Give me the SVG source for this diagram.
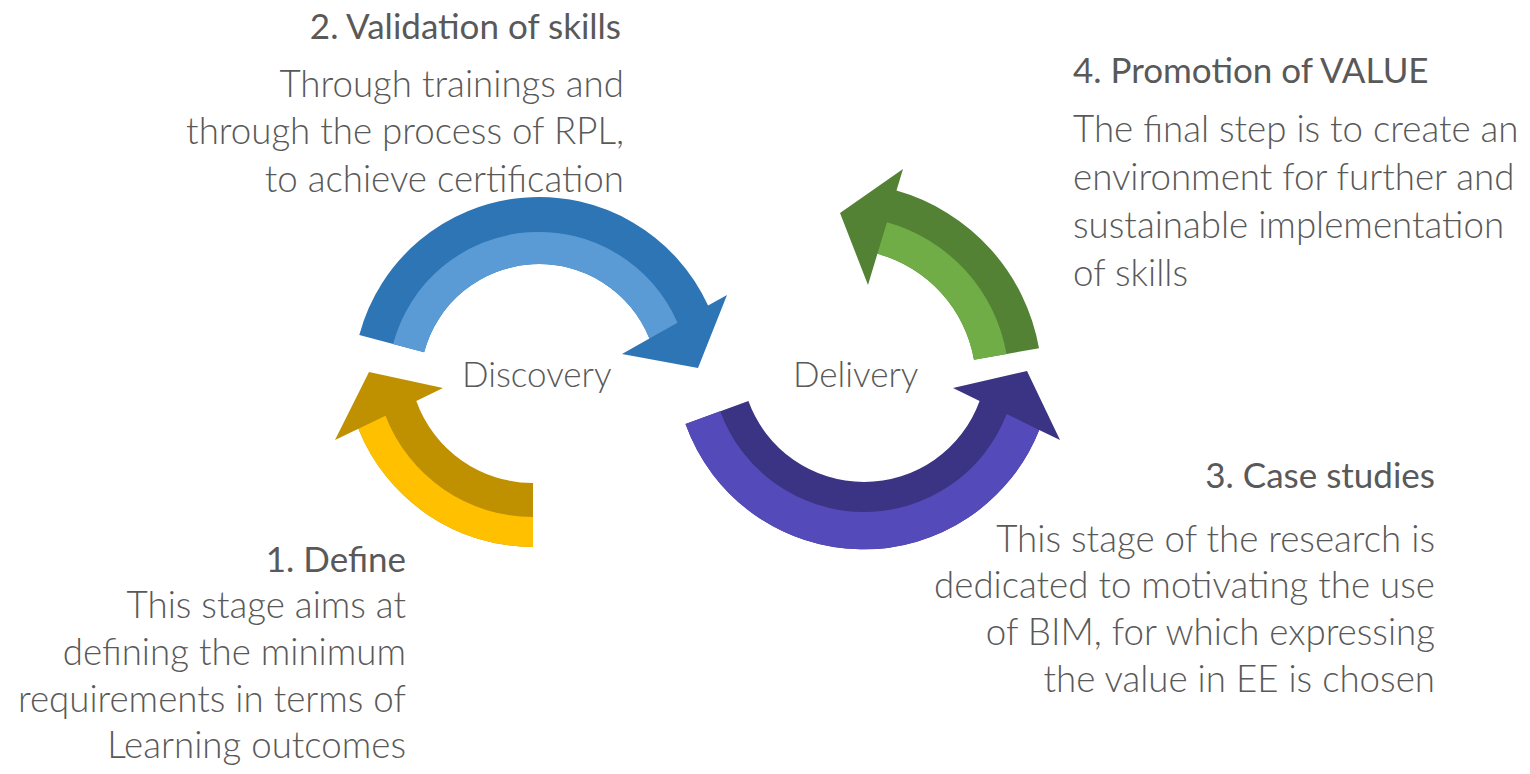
<svg xmlns="http://www.w3.org/2000/svg" width="1530" height="774" viewBox="0 0 1530 774">
<style>
text { font-family: Lato, "Liberation Sans", sans-serif; fill: #595959; }
.h { font-size: 35px; font-weight: 400; }
.b { font-size: 36.7px; font-weight: 300; }
.c { font-size: 35px; font-weight: 300; }
.end { text-anchor: end; }
</style>
<rect width="1530" height="774" fill="#ffffff"/>
<g id="connectors">
  <g id="arrow-blue">
    <path fill="#2E75B6" d="M 359.3 334.9 A 186 186 0 0 1 708.1 305.6 L 727 295 L 698 368 L 622 354 L 649.4 338.6 A 119 119 0 0 0 424.1 352.2 Z"/>
    <path fill="#5B9BD5" d="M 393.1 343.9 A 151 151 0 0 1 677.5 322.8 L 649.4 338.6 A 119 119 0 0 0 424.1 352.2 Z"/>
  </g>
  <g id="arrow-yellow">
    <path fill="#BF9000" d="M 533 547 A 188 188 0 0 1 358.4 428.7 L 335 440 L 369 372 L 443 388 L 416.3 400.9 A 124 124 0 0 0 533 483 Z"/>
    <path fill="#FFC000" d="M 533 547 A 188 188 0 0 1 358.4 428.7 L 385.5 415.7 A 158 158 0 0 0 533 517 Z"/>
  </g>
  <g id="arrow-purple">
    <path fill="#3B3484" d="M 685.5 424 A 189 189 0 0 0 1039.2 429.9 L 1060 440 L 1027 371 L 953 388 L 979.6 400.9 A 123 123 0 0 1 748.4 401.1 Z"/>
    <path fill="#554AB9" d="M 685.5 424 A 189 189 0 0 0 1039.2 429.9 L 1006.7 414.1 A 153 153 0 0 1 720.2 411.3 Z"/>
  </g>
  <g id="arrow-green">
    <path fill="#548235" d="M 1039 348.3 A 200 200 0 0 0 896.5 190.6 L 903 169 L 840 213 L 868 285 L 877.4 253.8 A 134 134 0 0 1 974 359.7 Z"/>
    <path fill="#70AD47" d="M 1006.5 354 A 167 167 0 0 0 887 222.2 L 877.4 253.8 A 134 134 0 0 1 974 359.7 Z"/>
  </g>
</g>
<g id="node-discovery">
  <text class="c" x="462" y="387">Discovery</text>
</g>
<g id="node-delivery">
  <text class="c" x="793" y="387">Delivery</text>
</g>
<g id="node-define">
  <text class="h end" x="406" y="572">1. Define</text>
  <text class="b end" x="406" y="618">This stage aims at</text>
  <text class="b end" x="406" y="665">defining the minimum</text>
  <text class="b end" x="406" y="712">requirements in terms of</text>
  <text class="b end" x="406" y="758">Learning outcomes</text>
</g>
<g id="node-validation">
  <text class="h end" x="621" y="39">2. Validation of skills</text>
  <text class="b end" x="624" y="97">Through trainings and</text>
  <text class="b end" x="624" y="144">through the process of RPL,</text>
  <text class="b end" x="624" y="192">to achieve certification</text>
</g>
<g id="node-case">
  <text class="h end" x="1435" y="488">3. Case studies</text>
  <text class="b end" x="1435" y="552">This stage of the research is</text>
  <text class="b end" x="1435" y="598">dedicated to motivating the use</text>
  <text class="b end" x="1435" y="645">of BIM, for which expressing</text>
  <text class="b end" x="1435" y="692">the value in EE is chosen</text>
</g>
<g id="node-promotion">
  <text class="h" x="1073" y="83">4. Promotion of VALUE</text>
  <text class="b" x="1073" y="142">The final step is to create an</text>
  <text class="b" x="1073" y="190">environment for further and</text>
  <text class="b" x="1073" y="238">sustainable implementation</text>
  <text class="b" x="1073" y="286">of skills</text>
</g>
</svg>
